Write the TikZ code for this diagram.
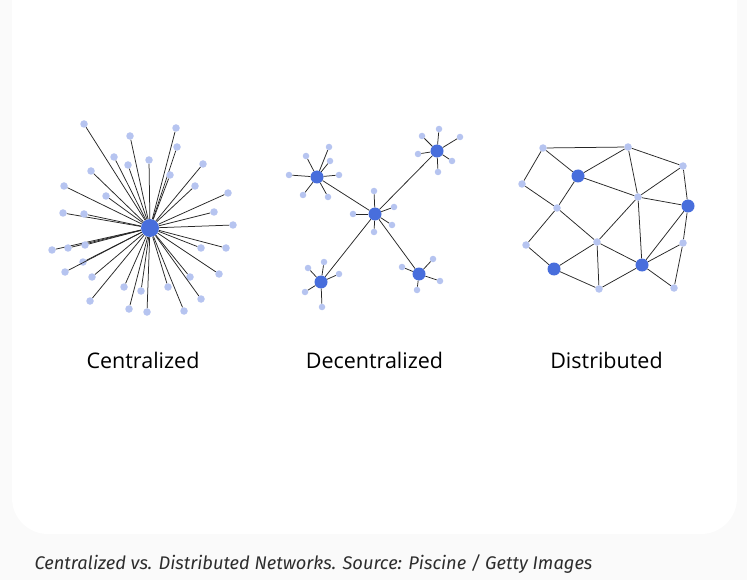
\documentclass[tikz,border=0pt]{standalone}
\usepackage{fontspec}
\setmainfont{Open Sans}
\newfontfamily\capfont{Fira Sans}
\usepackage{tikz}
\definecolor{netblue}{RGB}{72,110,220}
\definecolor{netleaf}{RGB}{182,196,240}
\definecolor{pagegray}{RGB}{250,250,250}
\definecolor{captext}{RGB}{45,45,45}

\begin{document}
\begin{tikzpicture}[x=1pt,y=-1pt,
  hub/.style={circle,fill=netblue,inner sep=0pt,minimum size=#1},
  hub/.default=13pt,
  leaf/.style={circle,fill=netleaf,inner sep=0pt,minimum size=#1},
  leaf/.default=7.5pt,
  link/.style={draw=black!85,line width=.75pt},
  netname/.style={font=\fontsize{21.5}{25}\selectfont,text=black,anchor=base},
  source/.style={font=\capfont\itshape\fontsize{18.3}{21}\selectfont,text=captext,anchor=base west}]

\path[use as bounding box] (0,0) rectangle (747,580);
\fill[pagegray] (0,0) rectangle (747,580);
\fill[white,rounded corners=36pt] (12,-60) rectangle (737,534);

% centralized
\node[hub=18pt] (chub) at (150,228) {};
\foreach \i/\x/\y in {1/84/124,2/130/136,3/176/128,4/177/147,5/114/157,6/128/165,
  7/149/160,8/203/164,9/91/171,10/170/175,11/64/186,12/195/186,13/228/193,
  14/106/196,15/63/213,16/84/214,17/214/212,18/233/225,19/52/250,20/68/248,
  21/85/245,22/201/248,23/226/248,24/83/262,25/65/272,26/92/277,27/190/277,
  28/219/274,29/124/287,30/141/291,31/168/287,32/90/301,33/201/299,
  34/129/309,35/147/312,36/184/311}{
  \node[leaf] (c\i) at (\x,\y) {};
  \draw[link] (chub) -- (c\i);
}
\node[netname] (tcen) at (143,368) {Centralized};

% decentralized
\node[hub] (dmid) at (375,214) {};
\node[hub] (dnw) at (317,177) {};
\node[hub] (dne) at (437,151) {};
\node[hub] (dsw) at (321,282) {};
\node[hub] (dse) at (419,274) {};
\foreach \h in {dnw,dne,dsw,dse}
  \draw[link] (dmid) -- (\h);
\foreach \h/\i/\x/\y in {dmid/1/374/191,dmid/2/394/207,dmid/3/392/225,dmid/4/374/232,dmid/5/353/214,
  dnw/1/329/147,dnw/2/330/161,dnw/3/306/156,dnw/4/289/175,dnw/5/339/175,dnw/6/303/195,dnw/7/328/197,
  dne/1/439/129,dne/2/422/136,dne/3/460/137,dne/4/418/154,dne/5/452/161,dne/6/438/172,
  dsw/1/308/268,dsw/2/324/262,dsw/3/339/274,dsw/4/305/292,dsw/5/322/307,
  dse/1/433/259,dse/2/402/267,dse/3/440/281,dse/4/417/290}{
  \node[leaf=6.5pt] (\h-\i) at (\x,\y) {};
  \draw[link] (\h) -- (\h-\i);
}
\node[netname] (tdec) at (374.5,368) {Decentralized};

% distributed
\foreach \i/\x/\y in {1/543/148,2/628/147,3/683/166,4/522/184,5/638/197,6/557/208,
  7/597/242,8/526/245,9/683/243,10/599/289,11/674/288}
  \node[leaf] (s\i) at (\x,\y) {};
\foreach \i/\x/\y in {1/578/176,2/688/206,3/642/265,4/554/269}
  \node[hub] (b\i) at (\x,\y) {};
\foreach \p/\q in {s1/s2,s1/b1,s1/s4,s4/s6,b1/s2,b1/s6,b1/s5,s2/s5,s2/s3,s3/s5,s3/b2,
  s5/b2,s5/s7,s5/b3,s6/s7,s6/s8,s8/b4,s7/b4,s7/s10,s7/b3,b4/s10,s10/b3,b3/b2,
  b2/s9,s9/s11,s9/b3,b3/s11}
  \draw[link] (\p) -- (\q);
\node[netname] (tdis) at (606.5,368) {Distributed};

\node[source] (caption) at (31,569) {Centralized vs. Distributed Networks. Source: Piscine / Getty Images};

\end{tikzpicture}
\end{document}
